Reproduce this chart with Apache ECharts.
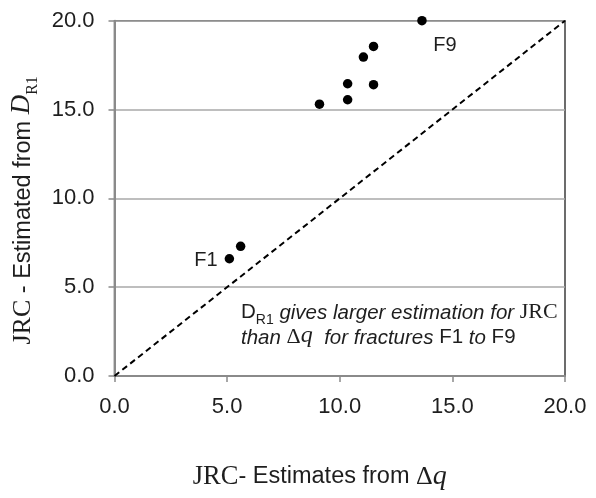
<!DOCTYPE html>
<html>
<head>
<meta charset="utf-8">
<script src="https://cdn.jsdelivr.net/npm/echarts@6/dist/echarts.min.js"></script>
<style>
html,body{margin:0;padding:0;background:#fff;}
#chart{width:596px;height:498px;}
</style>
</head>
<body>
<div id="chart"></div>
<script>
// Data
const fractureNames = ['F1', '', '', '', '', '', '', '', 'F9'];
const jrcDeltaQ = [5.1, 5.6, 9.1, 10.35, 10.35, 11.5, 11.05, 11.5, 13.65];
const jrcDR1 = [6.6, 7.3, 15.3, 15.55, 16.45, 16.4, 17.95, 18.55, 20.0];
const equalityLine = [[0, 0], [20, 20]];
const axisMin = 0, axisMax = 20, axisStep = 5;

const SANS = 'Liberation Sans, Arial, sans-serif';
const SERIF = 'Liberation Serif, Times New Roman, serif';
const TXT = '#1e1e1e';

const points = jrcDeltaQ.map((x, i) => ({
  value: [x, jrcDR1[i]],
  name: fractureNames[i],
  label: fractureNames[i] === 'F1'
    ? {show: true, position: 'left', distance: 7, offset: [0, 2]}
    : fractureNames[i] === 'F9'
      ? {show: true, position: 'bottom', distance: 10, offset: [23, 0]}
      : {show: false}
}));

const chart = echarts.init(document.getElementById('chart'));
chart.setOption({
  animation: false,
  backgroundColor: '#fff',
  grid: {left: 114.5, right: 31, top: 20.7, bottom: 122, show: true, borderColor: '#3c3c3c', borderWidth: 1.5},
  xAxis: {
    type: 'value', min: axisMin, max: axisMax, interval: axisStep,
    axisLine: {show: true, lineStyle: {color: '#8a8a8a', width: 2}},
    axisTick: {show: true, length: 6, lineStyle: {color: '#8a8a8a', width: 1.5}},
    splitLine: {show: false},
    axisLabel: {margin: 20, fontFamily: SANS, fontSize: 22, color: TXT, formatter: v => v.toFixed(1)},
    name: '{s|JRC}{a|- Estimates from }{d|Δ}{q|q}',
    nameLocation: 'middle', nameGap: 87,
    nameTextStyle: {
      padding: [0, 40, 0, 0],
      rich: {
        s: {fontFamily: SERIF, fontSize: 26.5, color: TXT},
        a: {fontFamily: SANS, fontSize: 23.5, color: TXT},
        d: {fontFamily: SERIF, fontSize: 26, color: TXT},
        q: {fontFamily: SERIF, fontStyle: 'italic', fontSize: 28, color: TXT}
      }
    }
  },
  yAxis: {
    type: 'value', min: axisMin, max: axisMax, interval: axisStep,
    axisLine: {show: true, lineStyle: {color: '#8a8a8a', width: 2}},
    axisTick: {show: true, length: 6, lineStyle: {color: '#8a8a8a', width: 1.5}},
    splitLine: {show: true, lineStyle: {color: '#a8a8a8', width: 1.5}},
    axisLabel: {margin: 20, fontFamily: SANS, fontSize: 22, color: TXT, formatter: v => v.toFixed(1)},
    name: '{s|JRC}{a| - Estimated from }{i|D}{sub|R1}',
    nameLocation: 'middle', nameGap: 77, nameRotate: 90,
    nameTextStyle: {
      padding: [0, 24, 0, 0],
      rich: {
        s: {fontFamily: SERIF, fontSize: 26, color: TXT, verticalAlign: 'bottom'},
        a: {fontFamily: SANS, fontSize: 23.5, color: TXT, verticalAlign: 'bottom'},
        i: {fontFamily: SERIF, fontStyle: 'italic', fontSize: 27, color: TXT, verticalAlign: 'bottom'},
        sub: {fontFamily: SERIF, fontSize: 16, color: TXT, verticalAlign: 'bottom', padding: [0, 0, -5, 0]}
      }
    }
  },
  series: [
    {
      type: 'line', data: equalityLine, symbol: 'none', silent: true,
      lineStyle: {color: '#000', width: 2, type: [6, 4]}, z: 2
    },
    {
      type: 'scatter', data: points, symbol: 'circle', symbolSize: 9.5,
      itemStyle: {color: '#000', opacity: 1}, z: 3,
      label: {formatter: '{b}', fontFamily: SANS, fontSize: 20, color: TXT}
    }
  ],
  graphic: [{
    type: 'text', left: 241, top: 301,
    style: {
      text: '{d|D}{sub|R1}{i| gives larger estimation for }{s|JRC}\n{i|than }{g|Δ}{q|q}{i|  for fractures }{n|F1}{i| to }{n|F9}',
      rich: {
        d: {fontFamily: SANS, fontSize: 20.5, fill: TXT, lineHeight: 25, verticalAlign: 'bottom'},
        g: {fontFamily: SERIF, fontSize: 22, fill: TXT, lineHeight: 25, verticalAlign: 'bottom'},
        sub: {fontFamily: SANS, fontSize: 14, fill: TXT, verticalAlign: 'bottom', padding: [0, 0, -4, 0]},
        i: {fontFamily: SANS, fontStyle: 'italic', fontSize: 20.5, fill: TXT, lineHeight: 25, verticalAlign: 'bottom'},
        n: {fontFamily: SANS, fontSize: 20.5, fill: TXT, lineHeight: 25, verticalAlign: 'bottom'},
        s: {fontFamily: SERIF, fontSize: 22, fill: TXT, lineHeight: 25, verticalAlign: 'bottom'},
        q: {fontFamily: SERIF, fontStyle: 'italic', fontSize: 24, fill: TXT, lineHeight: 25, verticalAlign: 'bottom'}
      }
    }
  }]
});
</script>
</body>
</html>
